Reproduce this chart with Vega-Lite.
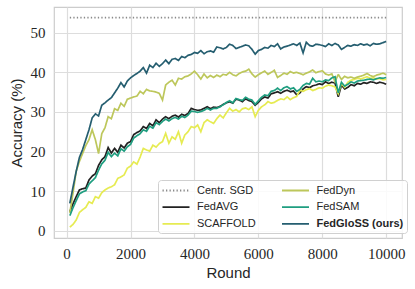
{
"$schema": "https://vega.github.io/schema/vega-lite/v6.json",
"width": 348, "height": 231,
"autosize": "none",
"padding": {"left": 54, "top": 7, "right": 13, "bottom": 51},
"background": "white",
"config": {
  "view": {"stroke": "#cccccc", "strokeWidth": 1.2},
  "axis": {"domain": false, "ticks": false, "gridColor": "#dddddd", "gridWidth": 1.2, "labelFont": "Liberation Serif", "labelFontSize": 15, "labelColor": "#262626", "titleFont": "Liberation Sans", "titleFontSize": 15, "titleFontWeight": "normal", "titleColor": "#262626"},
  "legend": {"orient": "none", "legendX": 104, "legendY": 173, "columns": 2, "symbolType": "M-1,0H3.5", "symbolSize": 144, "symbolStrokeWidth": 1.8,
             "labelFont": "Liberation Sans", "labelFontSize": 11, "labelColor": "#262626", "labelOffset": 21.5, "rowPadding": 4.7, "columnPadding": 21.5, "padding": 3.5,
             "fillColor": "rgba(255,255,255,0.85)", "strokeColor": "#d0d0d0", "cornerRadius": 3, "labelLimit": 200}
},
"data": {"values": [
{"method":"Centr. SGD","round":100,"acc":53.8},{"method":"Centr. SGD","round":10000,"acc":53.8},
{"method":"FedAVG","round":100,"acc":4.8},{"method":"FedAVG","round":200,"acc":6.8},{"method":"FedAVG","round":300,"acc":8.6},{"method":"FedAVG","round":400,"acc":10.3},{"method":"FedAVG","round":500,"acc":10.6},{"method":"FedAVG","round":600,"acc":10.8},{"method":"FedAVG","round":700,"acc":12.8},{"method":"FedAVG","round":800,"acc":13.8},{"method":"FedAVG","round":900,"acc":14.4},{"method":"FedAVG","round":1000,"acc":16.5},
{"method":"FedAVG","round":1100,"acc":17.9},{"method":"FedAVG","round":1200,"acc":18.7},{"method":"FedAVG","round":1300,"acc":21},{"method":"FedAVG","round":1400,"acc":19.6},{"method":"FedAVG","round":1500,"acc":20.8},{"method":"FedAVG","round":1600,"acc":19.8},{"method":"FedAVG","round":1700,"acc":21.6},{"method":"FedAVG","round":1800,"acc":20.9},{"method":"FedAVG","round":1900,"acc":22.1},{"method":"FedAVG","round":2000,"acc":22.5},
{"method":"FedAVG","round":2100,"acc":24.3},{"method":"FedAVG","round":2200,"acc":24.8},{"method":"FedAVG","round":2300,"acc":25.2},{"method":"FedAVG","round":2400,"acc":26.3},{"method":"FedAVG","round":2500,"acc":25.8},{"method":"FedAVG","round":2600,"acc":27.1},{"method":"FedAVG","round":2700,"acc":26.5},{"method":"FedAVG","round":2800,"acc":28},{"method":"FedAVG","round":2900,"acc":27.3},{"method":"FedAVG","round":3000,"acc":28.2},
{"method":"FedAVG","round":3100,"acc":28.8},{"method":"FedAVG","round":3200,"acc":28.3},{"method":"FedAVG","round":3300,"acc":28.9},{"method":"FedAVG","round":3400,"acc":29.2},{"method":"FedAVG","round":3500,"acc":28.7},{"method":"FedAVG","round":3600,"acc":29.4},{"method":"FedAVG","round":3700,"acc":29.1},{"method":"FedAVG","round":3800,"acc":29.6},{"method":"FedAVG","round":3900,"acc":30.9},{"method":"FedAVG","round":4000,"acc":30.6},
{"method":"FedAVG","round":4100,"acc":30.4},{"method":"FedAVG","round":4200,"acc":30.5},{"method":"FedAVG","round":4300,"acc":30.9},{"method":"FedAVG","round":4400,"acc":31.3},{"method":"FedAVG","round":4500,"acc":30.8},{"method":"FedAVG","round":4600,"acc":31.2},{"method":"FedAVG","round":4700,"acc":31.1},{"method":"FedAVG","round":4800,"acc":31.4},{"method":"FedAVG","round":4900,"acc":31.9},{"method":"FedAVG","round":5000,"acc":32.3},
{"method":"FedAVG","round":5100,"acc":32.6},{"method":"FedAVG","round":5200,"acc":32.2},{"method":"FedAVG","round":5300,"acc":33.2},{"method":"FedAVG","round":5400,"acc":33},{"method":"FedAVG","round":5500,"acc":32.6},{"method":"FedAVG","round":5600,"acc":33.3},{"method":"FedAVG","round":5700,"acc":32.9},{"method":"FedAVG","round":5800,"acc":32.6},{"method":"FedAVG","round":5900,"acc":31.7},{"method":"FedAVG","round":6000,"acc":32.4},
{"method":"FedAVG","round":6100,"acc":33.3},{"method":"FedAVG","round":6200,"acc":33.8},{"method":"FedAVG","round":6300,"acc":33.5},{"method":"FedAVG","round":6400,"acc":34.6},{"method":"FedAVG","round":6500,"acc":34.8},{"method":"FedAVG","round":6600,"acc":35.1},{"method":"FedAVG","round":6700,"acc":34.7},{"method":"FedAVG","round":6800,"acc":35.2},{"method":"FedAVG","round":6900,"acc":35.5},{"method":"FedAVG","round":7000,"acc":35.1},
{"method":"FedAVG","round":7100,"acc":35.3},{"method":"FedAVG","round":7200,"acc":34.3},{"method":"FedAVG","round":7300,"acc":34.8},{"method":"FedAVG","round":7400,"acc":35.8},{"method":"FedAVG","round":7500,"acc":36.4},{"method":"FedAVG","round":7600,"acc":36.1},{"method":"FedAVG","round":7700,"acc":36.6},{"method":"FedAVG","round":7800,"acc":36.8},{"method":"FedAVG","round":7900,"acc":37.1},{"method":"FedAVG","round":8000,"acc":36.9},
{"method":"FedAVG","round":8100,"acc":37.6},{"method":"FedAVG","round":8200,"acc":37.2},{"method":"FedAVG","round":8300,"acc":37.5},{"method":"FedAVG","round":8400,"acc":37.3},{"method":"FedAVG","round":8500,"acc":33.8},{"method":"FedAVG","round":8600,"acc":36.8},{"method":"FedAVG","round":8700,"acc":35.8},{"method":"FedAVG","round":8800,"acc":36.2},{"method":"FedAVG","round":8900,"acc":36.9},{"method":"FedAVG","round":9000,"acc":36.6},
{"method":"FedAVG","round":9100,"acc":37.2},{"method":"FedAVG","round":9200,"acc":37},{"method":"FedAVG","round":9300,"acc":37.4},{"method":"FedAVG","round":9400,"acc":37.2},{"method":"FedAVG","round":9500,"acc":37.6},{"method":"FedAVG","round":9600,"acc":37.5},{"method":"FedAVG","round":9700,"acc":37.2},{"method":"FedAVG","round":9800,"acc":37.5},{"method":"FedAVG","round":9900,"acc":37.3},{"method":"FedAVG","round":10000,"acc":37},
{"method":"SCAFFOLD","round":100,"acc":0.9},{"method":"SCAFFOLD","round":200,"acc":1.6},{"method":"SCAFFOLD","round":300,"acc":2.7},{"method":"SCAFFOLD","round":400,"acc":4.6},{"method":"SCAFFOLD","round":500,"acc":5.3},{"method":"SCAFFOLD","round":600,"acc":5.9},{"method":"SCAFFOLD","round":700,"acc":7.3},{"method":"SCAFFOLD","round":800,"acc":6.9},{"method":"SCAFFOLD","round":900,"acc":8.6},{"method":"SCAFFOLD","round":1000,"acc":8.2},
{"method":"SCAFFOLD","round":1100,"acc":9.6},{"method":"SCAFFOLD","round":1200,"acc":10.3},{"method":"SCAFFOLD","round":1300,"acc":10.8},{"method":"SCAFFOLD","round":1400,"acc":11.1},{"method":"SCAFFOLD","round":1500,"acc":11.6},{"method":"SCAFFOLD","round":1600,"acc":13.2},{"method":"SCAFFOLD","round":1700,"acc":13.6},{"method":"SCAFFOLD","round":1800,"acc":14.1},{"method":"SCAFFOLD","round":1900,"acc":15.8},{"method":"SCAFFOLD","round":2000,"acc":16.3},
{"method":"SCAFFOLD","round":2100,"acc":17.4},{"method":"SCAFFOLD","round":2200,"acc":16.8},{"method":"SCAFFOLD","round":2300,"acc":18.6},{"method":"SCAFFOLD","round":2400,"acc":20.8},{"method":"SCAFFOLD","round":2500,"acc":20.4},{"method":"SCAFFOLD","round":2600,"acc":20.1},{"method":"SCAFFOLD","round":2700,"acc":21.6},{"method":"SCAFFOLD","round":2800,"acc":21.1},{"method":"SCAFFOLD","round":2900,"acc":22},{"method":"SCAFFOLD","round":3000,"acc":22.5},
{"method":"SCAFFOLD","round":3100,"acc":24.6},{"method":"SCAFFOLD","round":3200,"acc":22.1},{"method":"SCAFFOLD","round":3300,"acc":23.7},{"method":"SCAFFOLD","round":3400,"acc":23.1},{"method":"SCAFFOLD","round":3500,"acc":25},{"method":"SCAFFOLD","round":3600,"acc":22.1},{"method":"SCAFFOLD","round":3700,"acc":24.2},{"method":"SCAFFOLD","round":3800,"acc":25},{"method":"SCAFFOLD","round":3900,"acc":26.3},{"method":"SCAFFOLD","round":4000,"acc":26},
{"method":"SCAFFOLD","round":4100,"acc":26.7},{"method":"SCAFFOLD","round":4200,"acc":25},{"method":"SCAFFOLD","round":4300,"acc":27.3},{"method":"SCAFFOLD","round":4400,"acc":28},{"method":"SCAFFOLD","round":4500,"acc":27.5},{"method":"SCAFFOLD","round":4600,"acc":27.1},{"method":"SCAFFOLD","round":4700,"acc":28.3},{"method":"SCAFFOLD","round":4800,"acc":29.2},{"method":"SCAFFOLD","round":4900,"acc":28.5},{"method":"SCAFFOLD","round":5000,"acc":29.8},
{"method":"SCAFFOLD","round":5100,"acc":30.9},{"method":"SCAFFOLD","round":5200,"acc":30.2},{"method":"SCAFFOLD","round":5300,"acc":30.6},{"method":"SCAFFOLD","round":5400,"acc":30},{"method":"SCAFFOLD","round":5500,"acc":30.8},{"method":"SCAFFOLD","round":5600,"acc":31},{"method":"SCAFFOLD","round":5700,"acc":30.6},{"method":"SCAFFOLD","round":5800,"acc":31.3},{"method":"SCAFFOLD","round":5900,"acc":28.8},{"method":"SCAFFOLD","round":6000,"acc":30.4},
{"method":"SCAFFOLD","round":6100,"acc":31.3},{"method":"SCAFFOLD","round":6200,"acc":31.8},{"method":"SCAFFOLD","round":6300,"acc":32.6},{"method":"SCAFFOLD","round":6400,"acc":32.2},{"method":"SCAFFOLD","round":6500,"acc":32.4},{"method":"SCAFFOLD","round":6600,"acc":32.9},{"method":"SCAFFOLD","round":6700,"acc":33.3},{"method":"SCAFFOLD","round":6800,"acc":33.1},{"method":"SCAFFOLD","round":6900,"acc":33.8},{"method":"SCAFFOLD","round":7000,"acc":33.1},
{"method":"SCAFFOLD","round":7100,"acc":33.6},{"method":"SCAFFOLD","round":7200,"acc":33.9},{"method":"SCAFFOLD","round":7300,"acc":35.5},{"method":"SCAFFOLD","round":7400,"acc":35.2},{"method":"SCAFFOLD","round":7500,"acc":35.6},{"method":"SCAFFOLD","round":7600,"acc":35.9},{"method":"SCAFFOLD","round":7700,"acc":35.4},{"method":"SCAFFOLD","round":7800,"acc":35.7},{"method":"SCAFFOLD","round":7900,"acc":36.1},{"method":"SCAFFOLD","round":8000,"acc":36},
{"method":"SCAFFOLD","round":8100,"acc":36.5},{"method":"SCAFFOLD","round":8200,"acc":36.8},{"method":"SCAFFOLD","round":8300,"acc":36.6},{"method":"SCAFFOLD","round":8400,"acc":36.3},{"method":"SCAFFOLD","round":8500,"acc":34.6},{"method":"SCAFFOLD","round":8600,"acc":37.2},{"method":"SCAFFOLD","round":8700,"acc":36.2},{"method":"SCAFFOLD","round":8800,"acc":37.5},{"method":"SCAFFOLD","round":8900,"acc":38},{"method":"SCAFFOLD","round":9000,"acc":38.2},
{"method":"SCAFFOLD","round":9100,"acc":38.5},{"method":"SCAFFOLD","round":9200,"acc":38.3},{"method":"SCAFFOLD","round":9300,"acc":38.6},{"method":"SCAFFOLD","round":9400,"acc":38.9},{"method":"SCAFFOLD","round":9500,"acc":38.5},{"method":"SCAFFOLD","round":9600,"acc":38.6},{"method":"SCAFFOLD","round":9700,"acc":38.3},{"method":"SCAFFOLD","round":9800,"acc":38.4},{"method":"SCAFFOLD","round":9900,"acc":38.1},{"method":"SCAFFOLD","round":10000,"acc":38.2},
{"method":"FedDyn","round":100,"acc":4.5},{"method":"FedDyn","round":200,"acc":9.5},{"method":"FedDyn","round":300,"acc":15},{"method":"FedDyn","round":400,"acc":17.5},{"method":"FedDyn","round":500,"acc":19.5},{"method":"FedDyn","round":600,"acc":21.5},{"method":"FedDyn","round":700,"acc":23},{"method":"FedDyn","round":800,"acc":25.5},{"method":"FedDyn","round":900,"acc":23},{"method":"FedDyn","round":1000,"acc":19.5},
{"method":"FedDyn","round":1100,"acc":24.5},{"method":"FedDyn","round":1200,"acc":26},{"method":"FedDyn","round":1300,"acc":28.8},{"method":"FedDyn","round":1400,"acc":28.3},{"method":"FedDyn","round":1500,"acc":30.8},{"method":"FedDyn","round":1600,"acc":30.4},{"method":"FedDyn","round":1700,"acc":32.2},{"method":"FedDyn","round":1800,"acc":31.4},{"method":"FedDyn","round":1900,"acc":33.2},{"method":"FedDyn","round":2000,"acc":33.5},
{"method":"FedDyn","round":2100,"acc":33.8},{"method":"FedDyn","round":2200,"acc":34},{"method":"FedDyn","round":2300,"acc":35.2},{"method":"FedDyn","round":2400,"acc":34.6},{"method":"FedDyn","round":2500,"acc":35.7},{"method":"FedDyn","round":2600,"acc":35.3},{"method":"FedDyn","round":2700,"acc":35.2},{"method":"FedDyn","round":2800,"acc":35},{"method":"FedDyn","round":2900,"acc":34.7},{"method":"FedDyn","round":3000,"acc":33},
{"method":"FedDyn","round":3100,"acc":36.8},{"method":"FedDyn","round":3200,"acc":37.5},{"method":"FedDyn","round":3300,"acc":38},{"method":"FedDyn","round":3400,"acc":36.8},{"method":"FedDyn","round":3500,"acc":38.5},{"method":"FedDyn","round":3600,"acc":38.3},{"method":"FedDyn","round":3700,"acc":38.9},{"method":"FedDyn","round":3800,"acc":39.1},{"method":"FedDyn","round":3900,"acc":39.6},{"method":"FedDyn","round":4000,"acc":40.3},
{"method":"FedDyn","round":4100,"acc":39.4},{"method":"FedDyn","round":4200,"acc":38.3},{"method":"FedDyn","round":4300,"acc":39.6},{"method":"FedDyn","round":4400,"acc":38.6},{"method":"FedDyn","round":4500,"acc":39.2},{"method":"FedDyn","round":4600,"acc":38.7},{"method":"FedDyn","round":4700,"acc":39.3},{"method":"FedDyn","round":4800,"acc":38.9},{"method":"FedDyn","round":4900,"acc":39.5},{"method":"FedDyn","round":5000,"acc":39.3},
{"method":"FedDyn","round":5100,"acc":40},{"method":"FedDyn","round":5200,"acc":39.4},{"method":"FedDyn","round":5300,"acc":39.1},{"method":"FedDyn","round":5400,"acc":39.7},{"method":"FedDyn","round":5500,"acc":40.1},{"method":"FedDyn","round":5600,"acc":40.3},{"method":"FedDyn","round":5700,"acc":40.8},{"method":"FedDyn","round":5800,"acc":39.6},{"method":"FedDyn","round":5900,"acc":38.8},{"method":"FedDyn","round":6000,"acc":39.4},
{"method":"FedDyn","round":6100,"acc":39.9},{"method":"FedDyn","round":6200,"acc":40.3},{"method":"FedDyn","round":6300,"acc":39.5},{"method":"FedDyn","round":6400,"acc":40},{"method":"FedDyn","round":6500,"acc":40.5},{"method":"FedDyn","round":6600,"acc":38.7},{"method":"FedDyn","round":6700,"acc":39.2},{"method":"FedDyn","round":6800,"acc":39.8},{"method":"FedDyn","round":6900,"acc":39.5},{"method":"FedDyn","round":7000,"acc":40.2},
{"method":"FedDyn","round":7100,"acc":39.8},{"method":"FedDyn","round":7200,"acc":40},{"method":"FedDyn","round":7300,"acc":39.7},{"method":"FedDyn","round":7400,"acc":39.4},{"method":"FedDyn","round":7500,"acc":39.8},{"method":"FedDyn","round":7600,"acc":40.1},{"method":"FedDyn","round":7700,"acc":40.6},{"method":"FedDyn","round":7800,"acc":39.9},{"method":"FedDyn","round":7900,"acc":40.2},{"method":"FedDyn","round":8000,"acc":40.4},
{"method":"FedDyn","round":8100,"acc":39.6},{"method":"FedDyn","round":8200,"acc":39.3},{"method":"FedDyn","round":8300,"acc":39.6},{"method":"FedDyn","round":8400,"acc":37.6},{"method":"FedDyn","round":8500,"acc":39.5},{"method":"FedDyn","round":8600,"acc":38.2},{"method":"FedDyn","round":8700,"acc":39},{"method":"FedDyn","round":8800,"acc":38.6},{"method":"FedDyn","round":8900,"acc":38.8},{"method":"FedDyn","round":9000,"acc":38.5},
{"method":"FedDyn","round":9100,"acc":38.8},{"method":"FedDyn","round":9200,"acc":39},{"method":"FedDyn","round":9300,"acc":39.3},{"method":"FedDyn","round":9400,"acc":39.7},{"method":"FedDyn","round":9500,"acc":39.2},{"method":"FedDyn","round":9600,"acc":38.9},{"method":"FedDyn","round":9700,"acc":39.3},{"method":"FedDyn","round":9800,"acc":39.5},{"method":"FedDyn","round":9900,"acc":39.8},{"method":"FedDyn","round":10000,"acc":39.4},
{"method":"FedSAM","round":100,"acc":3.8},{"method":"FedSAM","round":200,"acc":5.8},{"method":"FedSAM","round":300,"acc":7.6},{"method":"FedSAM","round":400,"acc":9.3},{"method":"FedSAM","round":500,"acc":9.8},{"method":"FedSAM","round":600,"acc":10.1},{"method":"FedSAM","round":700,"acc":11.8},{"method":"FedSAM","round":800,"acc":12.6},{"method":"FedSAM","round":900,"acc":13.4},{"method":"FedSAM","round":1000,"acc":15.3},
{"method":"FedSAM","round":1100,"acc":16.9},{"method":"FedSAM","round":1200,"acc":17.8},{"method":"FedSAM","round":1300,"acc":19.8},{"method":"FedSAM","round":1400,"acc":18.7},{"method":"FedSAM","round":1500,"acc":19.6},{"method":"FedSAM","round":1600,"acc":18.9},{"method":"FedSAM","round":1700,"acc":20.7},{"method":"FedSAM","round":1800,"acc":20.1},{"method":"FedSAM","round":1900,"acc":21.2},{"method":"FedSAM","round":2000,"acc":21.8},
{"method":"FedSAM","round":2100,"acc":23.4},{"method":"FedSAM","round":2200,"acc":24},{"method":"FedSAM","round":2300,"acc":24.5},{"method":"FedSAM","round":2400,"acc":25.5},{"method":"FedSAM","round":2500,"acc":25.1},{"method":"FedSAM","round":2600,"acc":26.4},{"method":"FedSAM","round":2700,"acc":25.9},{"method":"FedSAM","round":2800,"acc":27.3},{"method":"FedSAM","round":2900,"acc":26.8},{"method":"FedSAM","round":3000,"acc":27.6},
{"method":"FedSAM","round":3100,"acc":28.2},{"method":"FedSAM","round":3200,"acc":27.7},{"method":"FedSAM","round":3300,"acc":28.3},{"method":"FedSAM","round":3400,"acc":28.6},{"method":"FedSAM","round":3500,"acc":28.2},{"method":"FedSAM","round":3600,"acc":28.9},{"method":"FedSAM","round":3700,"acc":28.6},{"method":"FedSAM","round":3800,"acc":29.2},{"method":"FedSAM","round":3900,"acc":30.2},{"method":"FedSAM","round":4000,"acc":30.1},
{"method":"FedSAM","round":4100,"acc":29.9},{"method":"FedSAM","round":4200,"acc":30.1},{"method":"FedSAM","round":4300,"acc":30.4},{"method":"FedSAM","round":4400,"acc":30.9},{"method":"FedSAM","round":4500,"acc":30.5},{"method":"FedSAM","round":4600,"acc":30.9},{"method":"FedSAM","round":4700,"acc":30.9},{"method":"FedSAM","round":4800,"acc":31.3},{"method":"FedSAM","round":4900,"acc":31.8},{"method":"FedSAM","round":5000,"acc":32.4},
{"method":"FedSAM","round":5100,"acc":32.8},{"method":"FedSAM","round":5200,"acc":32.3},{"method":"FedSAM","round":5300,"acc":33.4},{"method":"FedSAM","round":5400,"acc":33.1},{"method":"FedSAM","round":5500,"acc":32.9},{"method":"FedSAM","round":5600,"acc":33.7},{"method":"FedSAM","round":5700,"acc":33.2},{"method":"FedSAM","round":5800,"acc":33},{"method":"FedSAM","round":5900,"acc":31.9},{"method":"FedSAM","round":6000,"acc":32.8},
{"method":"FedSAM","round":6100,"acc":33.7},{"method":"FedSAM","round":6200,"acc":34.3},{"method":"FedSAM","round":6300,"acc":34.1},{"method":"FedSAM","round":6400,"acc":35.2},{"method":"FedSAM","round":6500,"acc":35.4},{"method":"FedSAM","round":6600,"acc":36},{"method":"FedSAM","round":6700,"acc":35.4},{"method":"FedSAM","round":6800,"acc":36.1},{"method":"FedSAM","round":6900,"acc":36.4},{"method":"FedSAM","round":7000,"acc":35.8},
{"method":"FedSAM","round":7100,"acc":36.1},{"method":"FedSAM","round":7200,"acc":35.2},{"method":"FedSAM","round":7300,"acc":35.7},{"method":"FedSAM","round":7400,"acc":36.7},{"method":"FedSAM","round":7500,"acc":37.2},{"method":"FedSAM","round":7600,"acc":37},{"method":"FedSAM","round":7700,"acc":38.5},{"method":"FedSAM","round":7800,"acc":37.6},{"method":"FedSAM","round":7900,"acc":37.8},{"method":"FedSAM","round":8000,"acc":37.6},
{"method":"FedSAM","round":8100,"acc":38.1},{"method":"FedSAM","round":8200,"acc":37.9},{"method":"FedSAM","round":8300,"acc":38.6},{"method":"FedSAM","round":8400,"acc":38.9},{"method":"FedSAM","round":8500,"acc":34.8},{"method":"FedSAM","round":8600,"acc":37.5},{"method":"FedSAM","round":8700,"acc":36.5},{"method":"FedSAM","round":8800,"acc":37},{"method":"FedSAM","round":8900,"acc":37.6},{"method":"FedSAM","round":9000,"acc":37.3},
{"method":"FedSAM","round":9100,"acc":37.8},{"method":"FedSAM","round":9200,"acc":37.9},{"method":"FedSAM","round":9300,"acc":38},{"method":"FedSAM","round":9400,"acc":38.2},{"method":"FedSAM","round":9500,"acc":38.3},{"method":"FedSAM","round":9600,"acc":38.1},{"method":"FedSAM","round":9700,"acc":38.4},{"method":"FedSAM","round":9800,"acc":38.6},{"method":"FedSAM","round":9900,"acc":38.5},{"method":"FedSAM","round":10000,"acc":38.7},
{"method":"FedGloSS (ours)","round":100,"acc":6.9},{"method":"FedGloSS (ours)","round":200,"acc":11},{"method":"FedGloSS (ours)","round":300,"acc":15},{"method":"FedGloSS (ours)","round":400,"acc":18.5},{"method":"FedGloSS (ours)","round":500,"acc":20.5},{"method":"FedGloSS (ours)","round":600,"acc":23},{"method":"FedGloSS (ours)","round":700,"acc":25.5},{"method":"FedGloSS (ours)","round":800,"acc":28.5},{"method":"FedGloSS (ours)","round":900,"acc":29.5},{"method":"FedGloSS (ours)","round":1000,"acc":29},
{"method":"FedGloSS (ours)","round":1100,"acc":31.7},{"method":"FedGloSS (ours)","round":1200,"acc":32.3},{"method":"FedGloSS (ours)","round":1300,"acc":33},{"method":"FedGloSS (ours)","round":1400,"acc":33.6},{"method":"FedGloSS (ours)","round":1500,"acc":34.8},{"method":"FedGloSS (ours)","round":1600,"acc":36},{"method":"FedGloSS (ours)","round":1700,"acc":37.4},{"method":"FedGloSS (ours)","round":1800,"acc":36.3},{"method":"FedGloSS (ours)","round":1900,"acc":37.8},{"method":"FedGloSS (ours)","round":2000,"acc":38.6},
{"method":"FedGloSS (ours)","round":2100,"acc":39.2},{"method":"FedGloSS (ours)","round":2200,"acc":39.7},{"method":"FedGloSS (ours)","round":2300,"acc":40.3},{"method":"FedGloSS (ours)","round":2400,"acc":41.2},{"method":"FedGloSS (ours)","round":2500,"acc":39.8},{"method":"FedGloSS (ours)","round":2600,"acc":41.8},{"method":"FedGloSS (ours)","round":2700,"acc":41.2},{"method":"FedGloSS (ours)","round":2800,"acc":42.3},{"method":"FedGloSS (ours)","round":2900,"acc":41.5},{"method":"FedGloSS (ours)","round":3000,"acc":42.2},
{"method":"FedGloSS (ours)","round":3100,"acc":43.1},{"method":"FedGloSS (ours)","round":3200,"acc":42.2},{"method":"FedGloSS (ours)","round":3300,"acc":43.3},{"method":"FedGloSS (ours)","round":3400,"acc":43.5},{"method":"FedGloSS (ours)","round":3500,"acc":43},{"method":"FedGloSS (ours)","round":3600,"acc":44},{"method":"FedGloSS (ours)","round":3700,"acc":43.7},{"method":"FedGloSS (ours)","round":3800,"acc":44.3},{"method":"FedGloSS (ours)","round":3900,"acc":44.5},{"method":"FedGloSS (ours)","round":4000,"acc":45},
{"method":"FedGloSS (ours)","round":4100,"acc":44.8},{"method":"FedGloSS (ours)","round":4200,"acc":45.5},{"method":"FedGloSS (ours)","round":4300,"acc":44.7},{"method":"FedGloSS (ours)","round":4400,"acc":45.2},{"method":"FedGloSS (ours)","round":4500,"acc":45.4},{"method":"FedGloSS (ours)","round":4600,"acc":45.1},{"method":"FedGloSS (ours)","round":4700,"acc":46.4},{"method":"FedGloSS (ours)","round":4800,"acc":46.2},{"method":"FedGloSS (ours)","round":4900,"acc":45.9},{"method":"FedGloSS (ours)","round":5000,"acc":46.3},
{"method":"FedGloSS (ours)","round":5100,"acc":47.1},{"method":"FedGloSS (ours)","round":5200,"acc":46.8},{"method":"FedGloSS (ours)","round":5300,"acc":46},{"method":"FedGloSS (ours)","round":5400,"acc":46.3},{"method":"FedGloSS (ours)","round":5500,"acc":46.6},{"method":"FedGloSS (ours)","round":5600,"acc":46.9},{"method":"FedGloSS (ours)","round":5700,"acc":46.7},{"method":"FedGloSS (ours)","round":5800,"acc":45.8},{"method":"FedGloSS (ours)","round":5900,"acc":44.6},{"method":"FedGloSS (ours)","round":6000,"acc":45.5},
{"method":"FedGloSS (ours)","round":6100,"acc":45.8},{"method":"FedGloSS (ours)","round":6200,"acc":46.3},{"method":"FedGloSS (ours)","round":6300,"acc":46.1},{"method":"FedGloSS (ours)","round":6400,"acc":46.8},{"method":"FedGloSS (ours)","round":6500,"acc":46.5},{"method":"FedGloSS (ours)","round":6600,"acc":47.2},{"method":"FedGloSS (ours)","round":6700,"acc":45.9},{"method":"FedGloSS (ours)","round":6800,"acc":46.4},{"method":"FedGloSS (ours)","round":6900,"acc":46.6},{"method":"FedGloSS (ours)","round":7000,"acc":46.9},
{"method":"FedGloSS (ours)","round":7100,"acc":47.2},{"method":"FedGloSS (ours)","round":7200,"acc":46.8},{"method":"FedGloSS (ours)","round":7300,"acc":47.4},{"method":"FedGloSS (ours)","round":7400,"acc":44.9},{"method":"FedGloSS (ours)","round":7500,"acc":47.6},{"method":"FedGloSS (ours)","round":7600,"acc":46.8},{"method":"FedGloSS (ours)","round":7700,"acc":46.6},{"method":"FedGloSS (ours)","round":7800,"acc":47.1},{"method":"FedGloSS (ours)","round":7900,"acc":47},{"method":"FedGloSS (ours)","round":8000,"acc":46.8},
{"method":"FedGloSS (ours)","round":8100,"acc":46.5},{"method":"FedGloSS (ours)","round":8200,"acc":47.2},{"method":"FedGloSS (ours)","round":8300,"acc":46.8},{"method":"FedGloSS (ours)","round":8400,"acc":47.3},{"method":"FedGloSS (ours)","round":8500,"acc":46.9},{"method":"FedGloSS (ours)","round":8600,"acc":45.8},{"method":"FedGloSS (ours)","round":8700,"acc":46.3},{"method":"FedGloSS (ours)","round":8800,"acc":46.8},{"method":"FedGloSS (ours)","round":8900,"acc":46.6},{"method":"FedGloSS (ours)","round":9000,"acc":47},
{"method":"FedGloSS (ours)","round":9100,"acc":46.8},{"method":"FedGloSS (ours)","round":9200,"acc":47.2},{"method":"FedGloSS (ours)","round":9300,"acc":46.9},{"method":"FedGloSS (ours)","round":9400,"acc":47.1},{"method":"FedGloSS (ours)","round":9500,"acc":46.7},{"method":"FedGloSS (ours)","round":9600,"acc":47.3},{"method":"FedGloSS (ours)","round":9700,"acc":47.1},{"method":"FedGloSS (ours)","round":9800,"acc":47.2},{"method":"FedGloSS (ours)","round":9900,"acc":47.5},{"method":"FedGloSS (ours)","round":10000,"acc":47.8}
]},
"mark": {"type": "line", "strokeWidth": 1.7},
"encoding": {
  "x": {"field": "round", "type": "quantitative", "scale": {"domain": [-395, 10495], "nice": false, "zero": false},
        "axis": {"values": [0, 2000, 4000, 6000, 8000, 10000], "format": "d", "title": "Round", "labelPadding": 8, "titlePadding": 4, "labelFlush": false}},
  "y": {"field": "acc", "type": "quantitative", "scale": {"domain": [-1.84, 56.5], "nice": false, "zero": false},
        "axis": {"values": [0, 10, 20, 30, 40, 50], "title": "Accuracy (%)", "labelPadding": 9, "titlePadding": 6}},
  "color": {"field": "method", "type": "nominal",
    "scale": {"domain": ["Centr. SGD", "FedAVG", "SCAFFOLD", "FedDyn", "FedSAM", "FedGloSS (ours)"],
              "range": ["#8a8a8a", "#222222", "#e6eb52", "#bdc75b", "#1f9e80", "#255e70"]},
    "legend": {"title": null, "labelFontWeight": {"expr": "datum.label == 'FedGloSS (ours)' ? 'bold' : 'normal'"}}},
  "strokeDash": {"field": "method", "type": "nominal",
    "scale": {"domain": ["Centr. SGD", "FedAVG", "SCAFFOLD", "FedDyn", "FedSAM", "FedGloSS (ours)"],
              "range": [[1.3, 2.2], [1, 0], [1, 0], [1, 0], [1, 0], [1, 0]]},
    "legend": {"title": null, "labelFontWeight": {"expr": "datum.label == 'FedGloSS (ours)' ? 'bold' : 'normal'"}}}
}
}
